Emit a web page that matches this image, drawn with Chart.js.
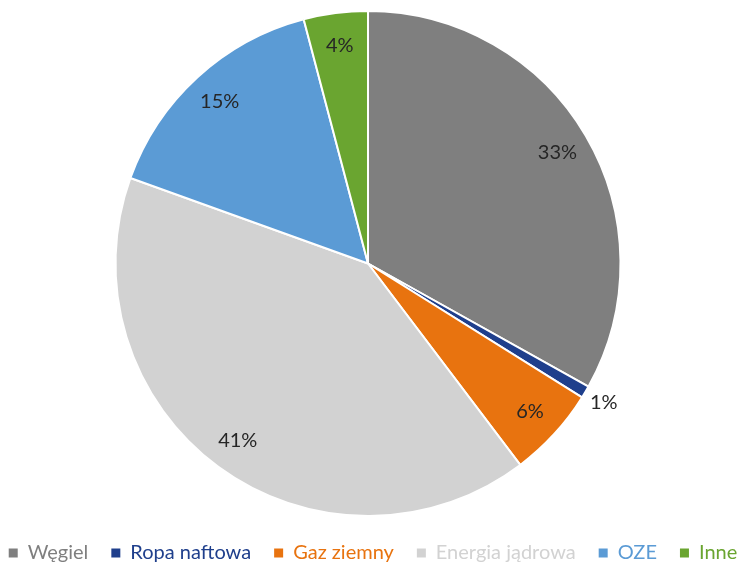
<!DOCTYPE html>
<html>
<head>
<meta charset="utf-8">
<script src="https://cdn.jsdelivr.net/npm/chart.js@4"></script>
<style>
  html, body { margin: 0; padding: 0; background: #fff; }
  #wrap { width: 740px; height: 564px; }
</style>
</head>
<body>
<div id="wrap"><canvas id="myChart"></canvas></div>
<script>
// dane z wykresu (udziały w %)
const labels = ['Węgiel', 'Ropa naftowa', 'Gaz ziemny', 'Energia jądrowa', 'OZE', 'Inne'];
const values = [33.1, 0.8, 5.8, 40.8, 15.4, 4.1];
const valueLabels = ['33%', '1%', '6%', '41%', '15%', '4%'];
const colors = ['#7f7f7f', '#1f3f8c', '#e8730f', '#d2d2d2', '#5b9bd5', '#6aa530'];

const FONT = 'Lato, "Noto Sans", sans-serif';
const LEGEND_H = 47;

// etykiety procentowe na wycinkach
const sliceLabels = {
    id: 'sliceLabels',
    afterInit(chart) {
        // legenda w jednym wierszu i niższa niż domyślnie
        const leg = chart.legend;
        const fit = leg.fit;
        const draw = leg.draw;
        leg.fit = function () {
            const mw = this.maxWidth;
            this.maxWidth = mw + 200;
            fit.call(this);
            this.maxWidth = mw;
            this.width = mw;
            this.height = LEGEND_H;
        };
        leg.draw = function () {
            const l = this.left, r = this.right, t = this.top;
            this.left = l - 95;
            this.right = r + 105;
            this.top = t + 3;
            draw.call(this);
            this.left = l;
            this.right = r;
            this.top = t;
        };
    },
    afterDatasetsDraw(chart) {
        const ctx = chart.ctx;
        const meta = chart.getDatasetMeta(0);
        ctx.save();
        ctx.font = '20px ' + FONT;
        ctx.fillStyle = '#262626';
        ctx.textAlign = 'center';
        ctx.textBaseline = 'middle';
        meta.data.forEach((arc, i) => {
            const p = arc.getProps(['x', 'y', 'startAngle', 'endAngle', 'outerRadius'], true);
            const mid = (p.startAngle + p.endAngle) / 2;
            const small = values[i] < 2;
            const r = p.outerRadius * (small ? 1.085 : 0.87);
            ctx.fillText(valueLabels[i], p.x + Math.cos(mid) * r, p.y + Math.sin(mid) * r);
        });
        ctx.restore();
    }
};

const ctx = document.getElementById('myChart');

new Chart(ctx, {
    type: 'pie',
    data: {
        labels: labels,
        datasets: [{
            data: values,
            backgroundColor: colors,
            borderColor: '#ffffff',
            borderWidth: 2
        }]
    },
    options: {
        responsive: true,
        maintainAspectRatio: false,
        animation: false,
        layout: { padding: { top: 10, left: 0, right: 4, bottom: 0 } },
        plugins: {
            tooltip: { enabled: false },
            legend: {
                position: 'bottom',
                labels: {
                    font: { family: FONT, size: 20 },
                    boxWidth: 9,
                    boxHeight: 9,
                    padding: 23,
                    generateLabels(chart) {
                        return labels.map((l, i) => ({
                            text: l,
                            fillStyle: colors[i],
                            strokeStyle: colors[i],
                            lineWidth: 0,
                            fontColor: colors[i],
                            hidden: false,
                            index: i
                        }));
                    }
                }
            }
        }
    },
    plugins: [sliceLabels]
});
</script>
</body>
</html>
